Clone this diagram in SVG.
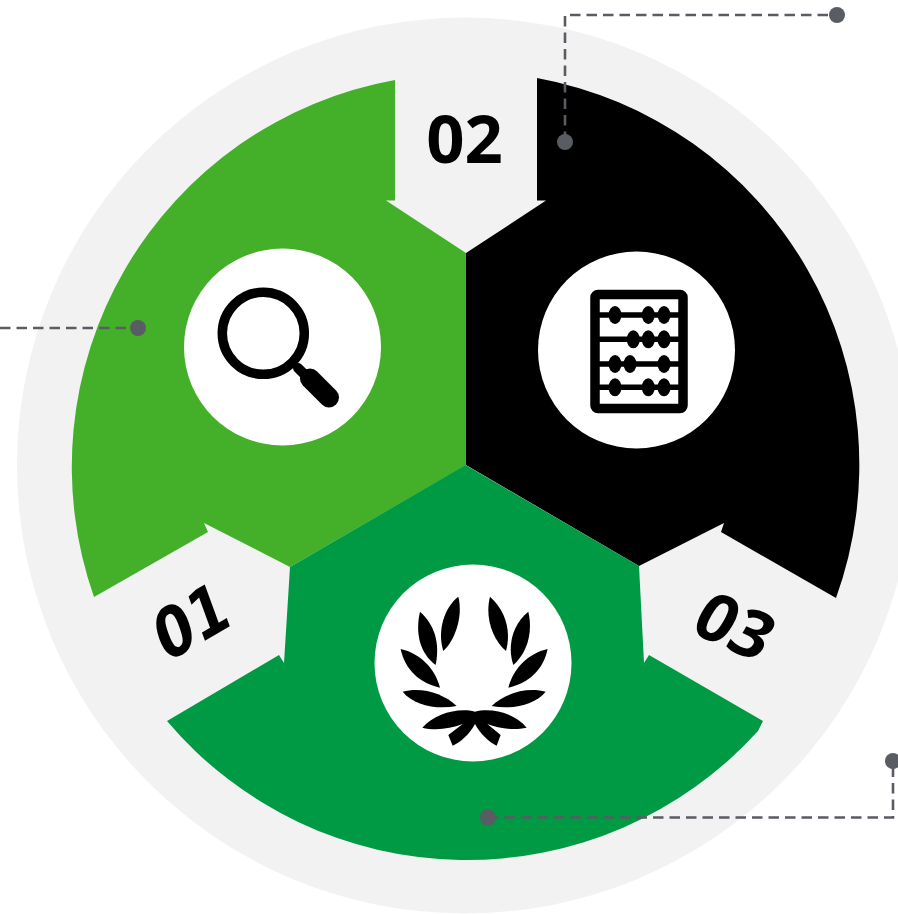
<svg xmlns="http://www.w3.org/2000/svg" width="898" height="914" viewBox="0 0 898 914">
<style>
.num{font-family:"Open Sans","Liberation Sans",sans-serif;font-weight:700;font-size:67px;fill:#000;text-anchor:middle}
.foot{font-family:"DejaVu Sans",sans-serif;font-size:67px}
.disc{fill:#fff}
.link{fill:none;stroke:#595c63;stroke-width:2.6;stroke-dasharray:10.500 6}
.dot{fill:#595c63}
</style>
<rect width="898" height="914" fill="#fff"/>
<circle id="backdrop" cx="465" cy="465.500" r="448" fill="#f2f2f2"/>
<g id="segment-01">
<path d="M395,80V200.500H386L466,253V465L290,567L204,523L208,532L94,597A393,393 0 0 1 395,80Z" fill="#44b02a"/>
<circle class="disc" cx="282.500" cy="347" r="98.500"/>
<g id="icon-magnifier" fill="none" stroke="#000" stroke-linecap="round">
<circle cx="263.300" cy="333.300" r="41" stroke-width="9.500"/>
<path d="M298,368L311,381" stroke-width="10"/>
<path d="M310,378.500L329,397.500" stroke-width="20"/>
</g>
<text class="num foot" transform="translate(191,621) rotate(-30) skewX(-10) scale(0.84,1)" y="24">01</text>
</g>
<g id="segment-02">
<path d="M537,78V200.500H546L466,253V465L639,566L724,523L721,532L836,598A393,393 0 0 0 537,78Z" fill="#000"/>
<circle class="disc" cx="636.500" cy="350" r="98.500"/>
<g id="icon-abacus" stroke="#000" fill="none">
<rect x="595" y="294.500" width="88" height="114" rx="3" stroke-width="9.500"/>
<path d="M595,315H683M595,339.300H683M595,364H683M595,387.300H683" stroke-width="5.500"/>
<g fill="#000" stroke="none">
<ellipse cx="615" cy="315" rx="6.500" ry="9"/><ellipse cx="648.300" cy="315" rx="6.500" ry="9"/><ellipse cx="664" cy="315" rx="6.500" ry="9"/>
<ellipse cx="633.300" cy="339.300" rx="6.500" ry="9"/><ellipse cx="648.300" cy="339.300" rx="6.500" ry="9"/><ellipse cx="664" cy="339.300" rx="6.500" ry="9"/>
<ellipse cx="615" cy="364" rx="6.500" ry="9"/><ellipse cx="630" cy="364" rx="6.500" ry="9"/><ellipse cx="664" cy="364" rx="6.500" ry="9"/>
<ellipse cx="615" cy="387.300" rx="6.500" ry="9"/><ellipse cx="648.300" cy="387.300" rx="6.500" ry="9"/><ellipse cx="664" cy="387.300" rx="6.500" ry="9"/>
</g>
</g>
<text class="num" x="464.500" y="162.500">02</text>
</g>
<g id="segment-03">
<path d="M465.500,465L639,566L644,663L649,655L763,721L758,731A393,393 0 0 1 167,721L279,655L284,663L290,567Z" fill="#009a44"/>
<circle class="disc" cx="473" cy="663" r="98.500"/>
<g id="icon-laurel" fill="#000" transform="translate(370,570) scale(0.3333)">
<path d="M265,80C225,110 200,180 220,243C255,210 280,140 265,80Z"/>
<path d="M150,125C135,190 150,250 197,285C210,220 195,165 150,125Z"/>
<path d="M92,237C105,300 150,340 210,353C195,295 150,250 92,237Z"/>
<path d="M98,365C130,405 200,420 260,408C220,370 155,350 98,365Z"/>
<path d="M360,80C345,140 365,205 408,243C425,180 405,120 360,80Z"/>
<path d="M475,125C430,160 410,225 430,285C470,250 490,190 475,125Z"/>
<path d="M533,237C475,250 430,295 415,353C475,340 520,300 533,237Z"/>
<path d="M527,365C470,350 405,370 365,408C425,420 495,405 527,365Z"/>
<path d="M157,473C195,430 265,412 315,425C365,412 435,430 470,473C430,482 385,475 352,462L392,495L380,527C355,515 330,490 315,462C300,490 275,515 248,527L235,495L278,462C240,477 195,482 157,473Z"/>
</g>
<text class="num" transform="translate(735,626) rotate(24) skewX(-6)" y="24">03</text>
</g>
<g id="connectors">
<path class="link" d="M565,142V15H837"/>
<circle class="dot" cx="565" cy="142" r="8"/><circle class="dot" cx="837" cy="15" r="8"/>
<path class="link" d="M0,328H138"/>
<circle class="dot" cx="138" cy="328" r="8"/>
<path class="link" d="M488,817.500H893V761"/>
<circle class="dot" cx="488" cy="817.500" r="8"/><circle class="dot" cx="893" cy="761" r="8"/>
</g>
</svg>
